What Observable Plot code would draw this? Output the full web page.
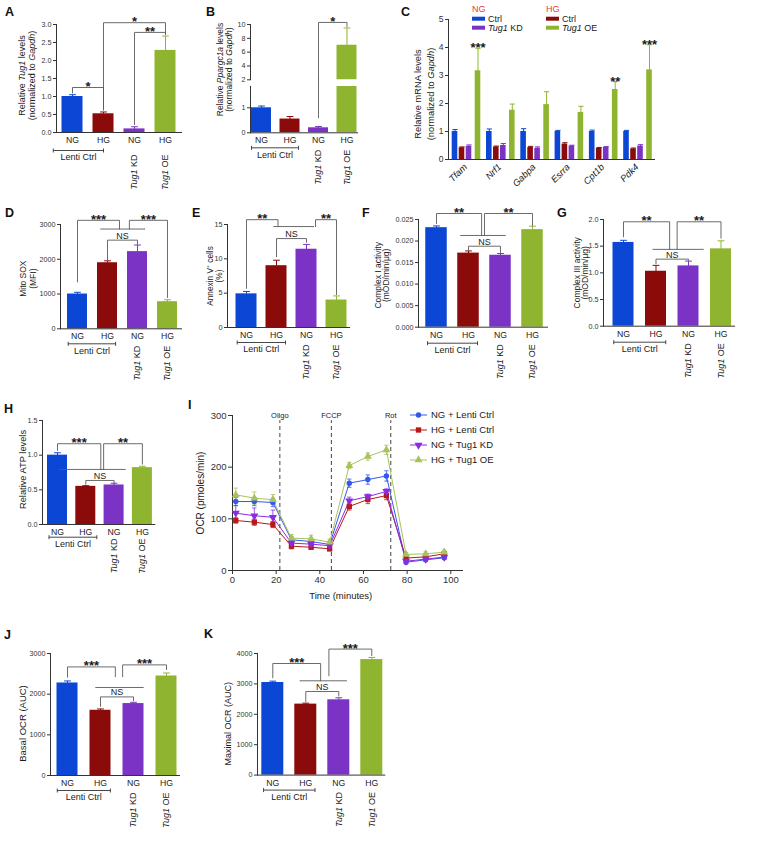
<!DOCTYPE html>
<html><head><meta charset="utf-8">
<script src="https://cdn.jsdelivr.net/npm/d3@7"></script>
<script src="https://cdn.jsdelivr.net/npm/@observablehq/plot@0.6"></script>
<style>
body{margin:0;background:#fff;}
#fig{position:relative;width:764px;height:858px;overflow:hidden;background:#fff;font-family:"Liberation Sans",Arial,sans-serif;}
#fig svg{overflow:visible;}
</style></head><body><div id="fig"></div>
<script>
// ================= DATA =================
const xGroups = ["NG", "HG", "NG", "HG"];
const treatLabels = ["", "", "Tug1 KD", "Tug1 OE"];
const lentiLabel = "Lenti Ctrl";
const barColors = ["#0b47d4", "#8b0a0a", "#7a33c4", "#8fb530"];

// A: Tug1 levels
const aVals = [1.0, 0.52, 0.1, 2.28];
const aErr = [0.05, 0.05, 0.06, 0.4];
const aBrackets = [[0, 1, 1.25, 1.1, 0.62, "*"], [1, 3, 3.05, 0.65, 2.72, "*"], [2, 3, 2.78, 0.22, 2.72, "**"]];
// B: Ppargc1a levels (broken axis)
const bVals = [1.0, 0.55, 0.2, 7.0];
const bErr = [0.07, 0.1, 0.05, 2.5];
const bBracketsUpper = [[2, 3, 10.3, 2, 9.7, "*"]];
const bBracketsLower = [[2, 2, 2.13, 0.6, 2.13, ""]];
// C: mRNA levels
const genes = ["Tfam", "Nrf1", "Gabpa", "Esrra", "Cpt1b", "Pdk4"];
const cNGctrl = [1.0, 1.0, 1.0, 1.0, 1.0, 1.0];
const cNGctrlErr = [0.07, 0.09, 0.1, 0.04, 0.05, 0.04];
const cHGctrl = [0.42, 0.45, 0.43, 0.55, 0.4, 0.38];
const cHGctrlErr = [0.03, 0.03, 0.04, 0.05, 0.03, 0.03];
const cNGkd = [0.47, 0.5, 0.4, 0.48, 0.43, 0.48];
const cNGkdErr = [0.05, 0.07, 0.05, 0.03, 0.03, 0.05];
const cHGoe = [3.17, 1.76, 1.96, 1.68, 2.5, 3.2];
const cHGoeErr = [0.8, 0.22, 0.46, 0.22, 0.28, 0.9];
const cStars = ["***", "", "", "", "**", "***"];
// D: Mito SOX
const dVals = [1000, 1900, 2220, 780];
const dErr = [50, 55, 190, 55];
const dBrackets = [[0, 1.4, 3120, 1350, 2870, "***"], [1.73, 3, 3120, 2870, 900, "***"], [0.77, 2.25, 2870, 2870, 2870, ""], [1, 2, 2550, 1990, 2430, "NS"]];
// E: Annexin V+
const eVals = [4.9, 9.0, 11.4, 4.0];
const eErr = [0.35, 0.8, 0.7, 0.6];
const eBrackets = [[0, 1.05, 15.7, 5.7, 14.7, "**"], [2.3, 3, 15.7, 14.7, 4.8, "**"], [0.9, 2.25, 14.7, 14.7, 14.7, ""], [1, 2, 12.95, 10.3, 12.4, "NS"]];
// F: Complex I
const fVals = [0.0231, 0.0172, 0.0167, 0.02265];
const fErr = [0.0004, 0.0005, 0.0004, 0.0008];
const fBrackets = [[0, 1.41, 0.02639, 0.02407, 0.02129, "**"], [1.5, 3, 0.02639, 0.02129, 0.02361, "**"], [0.75, 2.16, 0.02129, 0.02129, 0.02129, ""], [1, 2, 0.0188, 0.0178, 0.01734, "NS"]];
// G: Complex III
const gVals = [1.57, 1.03, 1.13, 1.45];
const gErr = [0.04, 0.11, 0.09, 0.15];
const gBrackets = [[0, 1.42, 1.957, 1.675, 1.44, "**"], [1.65, 3, 1.957, 1.44, 1.65, "**"], [0.9, 2.46, 1.44, 1.44, 1.44, ""], [1, 2, 1.257, 1.17, 1.235, "NS"]];
// H: ATP
const hVals = [1.0, 0.55, 0.57, 0.82];
const hErr = [0.035, 0.01, 0.025, 0.02];
const hBrackets = [[0, 1.53, 1.165, 1.068, 0.794, "***"], [1.63, 3, 1.165, 0.794, 0.87, "**"], [0.05, 2.4, 0.794, 0.794, 0.794, ""], [1, 2, 0.635, 0.58, 0.6, "NS"]];
// I: OCR time course
const iTimes = [1.5, 10, 18.5, 27, 36, 44.5, 53.5, 62, 70.5, 79.5, 88.5, 97];
const iSeries = ["NG + Lenti Ctrl", "HG + Lenti Ctrl", "NG + Tug1 KD", "HG + Tug1 OE"];
const iNGctrl = [133.5, 133.5, 131.6, 59.4, 56.1, 50.3, 169, 176, 183, 16, 20.7, 24.6];
const iNGctrlErr = [8, 8, 8, 6, 6, 5, 8, 9, 10, 3, 3, 3];
const iHGctrl = [96.8, 93.5, 89, 47, 45, 42, 124, 137.4, 145, 24, 26.5, 32.3];
const iHGctrlErr = [5, 6, 6, 5, 4, 4, 7, 8, 8, 3, 3, 3];
const iNGkd = [111, 106, 103, 53, 51, 48, 135, 143, 153, 18, 22, 26];
const iNGkdErr = [15, 15, 14, 6, 5, 5, 7, 5, 5, 3, 3, 3];
const iHGoe = [146.5, 140, 137, 62.6, 61.3, 54.8, 203, 220.6, 233.6, 31, 32.3, 35.5];
const iHGoeErr = [13, 12, 10, 7, 7, 6, 6, 7, 9, 4, 4, 4];
const injNames = ["Oligo", "FCCP", "Rot"];
const injTimes = [21.7, 45.3, 72.5];
// J: Basal OCR
const jVals = [2275, 1604, 1769, 2447];
const jErr = [50, 33, 31, 73];
const jBrackets = [[0, 1.45, 2670, 2417, 2430, "***"], [1.67, 3, 2720, 2430, 2606, "***"], [0.85, 2.3, 2164, 2164, 2164, ""], [1, 2, 1933, 1700, 1840, "NS"]];
// K: Maximal OCR
const kVals = [3046, 2335, 2477, 3800];
const kErr = [45, 33, 66, 70];
const kBrackets = [[0, 1.45, 3671, 3200, 3102, "***"], [1.7, 3, 4145, 3266, 3930, "***"], [0.82, 2.24, 3102, 3102, 3102, ""], [1, 2, 2750, 2420, 2600, "NS"]];

// ================= HELPERS =================
const svgNS = "http://www.w3.org/2000/svg";
const FONT = "'Liberation Sans', Arial, Helvetica, sans-serif";
const AX = "#333333";
const TXT = "#1a1a1a";
const BR = "#5a5a5a";
const fig = document.getElementById("fig");
const italicWords = ["Tug1", "Gapdh", "Ppargc1a"];

function italicize(root) {
  const re = new RegExp("(" + italicWords.join("|") + ")");
  root.querySelectorAll("text, tspan").forEach(node => {
    if (node.children.length) return;
    const t = node.textContent;
    if (!re.test(t)) return;
    const parts = t.split(re);
    node.textContent = "";
    parts.forEach(p => {
      if (!p) return;
      const ts = document.createElementNS(svgNS, "tspan");
      ts.textContent = p;
      if (italicWords.includes(p)) ts.setAttribute("font-style", "italic");
      node.appendChild(ts);
    });
  });
}

function place(svg, left, top) {
  svg.style.position = "absolute";
  svg.style.left = left + "px";
  svg.style.top = top + "px";
  svg.style.maxWidth = "none";
  italicize(svg);
  fig.appendChild(svg);
}

function barPanel(p) {
  const [lo, hi] = p.yDomain;
  const frameH = p.y0 - p.yTop;
  const upp = (hi - lo) / frameH;
  const mL = 50, mR = 8, mT = 20, mB = 72;
  const frameW = p.axisEnd - p.axisX;
  const xmin = (p.axisX - p.c0) / p.step;
  const xmax = (p.axisEnd - p.c0) / p.step;
  const hw = p.bw / p.step / 2;
  const cw = 3.4 / p.step;
  const idx = p.vals.map((_, i) => i);
  const top = i => p.vals[i] + p.errs[i];
  const clip = !!p.clip;
  const marks = [
    Plot.rect(idx, {x1: i => i - hw, x2: i => i + hw, y1: 0, y2: i => p.vals[i], fill: i => barColors[i], clip}),
    Plot.link(idx, {x1: i => i, x2: i => i, y1: i => p.vals[i], y2: top, stroke: i => barColors[i], strokeWidth: 1, clip}),
    Plot.link(idx, {x1: i => i - cw, x2: i => i + cw, y1: top, y2: top, stroke: i => barColors[i], strokeWidth: 1, clip})
  ];
  const segs = [];
  (p.brackets || []).forEach((b, k) => {
    const [x1, x2, lev, l1, l2] = b;
    segs.push({k, x: x1, y: l1}, {k, x: x1, y: lev}, {k, x: x2, y: lev}, {k, x: x2, y: l2});
  });
  if (segs.length) marks.push(Plot.line(segs, {x: "x", y: "y", z: "k", stroke: BR, strokeWidth: 0.9}));
  const stars = (p.brackets || []).filter(b => b[5] && b[5] !== "NS");
  const ns = (p.brackets || []).filter(b => b[5] === "NS");
  marks.push(Plot.text(stars, {x: b => (b[0] + b[1]) / 2, y: b => b[2], text: b => b[5], fontSize: 13, fontWeight: "bold", lineAnchor: "bottom", dy: 3.5, fill: TXT}));
  marks.push(Plot.text(ns, {x: b => (b[0] + b[1]) / 2, y: b => b[2], text: b => b[5], fontSize: 9, lineAnchor: "bottom", dy: -1.5, fill: TXT}));
  if (p.xaxis !== false) marks.push(Plot.ruleY([lo], {stroke: AX, strokeWidth: 1}));
  if (p.xlabels !== false) {
    marks.push(Plot.text(idx, {x: i => i, y: lo, text: i => xGroups[i], lineAnchor: "top", dy: 4.5, fontSize: 8.7, fill: TXT}));
    const ly = lo - p.lentiDy * upp;
    marks.push(Plot.link([p.lenti], {x1: d => d[0], x2: d => d[1], y1: ly, y2: ly, stroke: AX, strokeWidth: 0.9}));
    marks.push(Plot.link(p.lenti, {x1: d => d, x2: d => d, y1: lo - (p.lentiDy - 2) * upp, y2: lo - (p.lentiDy + 2) * upp, stroke: AX, strokeWidth: 0.9}));
    marks.push(Plot.text([p.lenti], {x: d => (d[0] + d[1]) / 2, y: lo, text: () => lentiLabel, lineAnchor: "top", dy: p.lentiDy + 3.5, fontSize: 9, fill: TXT}));
    marks.push(Plot.text([2, 3], {x: i => i, y: lo, text: i => treatLabels[i], rotate: -90, textAnchor: "end", lineAnchor: "middle", dy: p.rotDy, fontSize: 9, fill: TXT}));
  }
  if (p.ylabel) marks.push(Plot.text([p.ylabel], {frameAnchor: "left", text: d => d, rotate: -90, textAnchor: "middle", lineAnchor: "middle", dx: p.ylDx, dy: p.ylDy || 0, fontSize: p.ylFont, lineHeight: p.ylLh || 1.1, fill: TXT}));
  const svg = Plot.plot({
    width: mL + frameW + mR, height: mT + frameH + mB,
    marginLeft: mL, marginRight: mR, marginTop: mT, marginBottom: mB,
    x: {domain: [xmin, xmax], axis: null},
    y: {domain: [lo, hi], ticks: p.ticks, tickFormat: p.fmt, tickSize: 3, tickPadding: 2, line: true, label: null},
    color: {type: "identity"},
    style: {background: "transparent", fontFamily: FONT, fontSize: "7.2px", color: AX, overflow: "visible"},
    marks
  });
  place(svg, p.axisX - mL, p.yTop - mT);
}

const f1 = d3.format(".1f"), fd = d3.format("d"), f3 = d3.format(".3f");

// A
barPanel({axisX: 56, y0: 132, yTop: 24, yDomain: [0, 3], ticks: [0, 0.5, 1, 1.5, 2, 2.5, 3], fmt: f1, c0: 72, step: 31, axisEnd: 182, bw: 21,
  vals: aVals, errs: aErr, brackets: aBrackets, lenti: [-0.62, 1.0], lentiDy: 18, rotDy: 22,
  ylabel: "Relative Tug1 levels\n(normalized to Gapdh)", ylFont: 9, ylDx: -29.7, ylDy: -3, ylLh: 1.05});
// B upper & lower
barPanel({axisX: 250, y0: 79.3, yTop: 24, yDomain: [2, 10], ticks: [2, 4, 6, 8, 10], fmt: fd, c0: 261, step: 28.5, axisEnd: 358, bw: 20,
  vals: bVals, errs: bErr, brackets: bBracketsUpper, clip: true, xaxis: false, xlabels: false,
  ylabel: "Relative Ppargc1a levels\n(normalized to Gapdh)", ylFont: 8.5, ylDx: -26, ylDy: 17.4, ylLh: 1.1});
barPanel({axisX: 250, y0: 132.3, yTop: 86, yDomain: [0, 1.85], ticks: [0, 1], fmt: fd, c0: 261, step: 28.5, axisEnd: 358, bw: 20,
  vals: bVals, errs: bErr, brackets: bBracketsLower, clip: true, lenti: [-0.35, 1.3], lentiDy: 15, rotDy: 17});
// D
barPanel({axisX: 60, y0: 328.3, yTop: 224, yDomain: [0, 3000], ticks: [0, 1000, 2000, 3000], fmt: fd, c0: 77, step: 30, axisEnd: 182, bw: 20,
  vals: dVals, errs: dErr, brackets: dBrackets, lenti: [-0.31, 1.27], lentiDy: 15, rotDy: 17,
  ylabel: "Mito SOX\n(MFI)", ylFont: 8.5, ylDx: -32.5, ylDy: 2, ylLh: 1.2});
// E
barPanel({axisX: 227, y0: 327, yTop: 224, yDomain: [0, 15], ticks: [0, 5, 10, 15], fmt: fd, c0: 246, step: 30, axisEnd: 350, bw: 21,
  vals: eVals, errs: eErr, brackets: eBrackets, lenti: [-0.31, 1.3], lentiDy: 15, rotDy: 17,
  ylabel: "Annexin V\u207A cells\n(%)", ylFont: 8.3, ylDx: -13, ylDy: 0, ylLh: 1.1});
// F
barPanel({axisX: 418, y0: 326.7, yTop: 219, yDomain: [0, 0.025], ticks: [0, 0.005, 0.01, 0.015, 0.02, 0.025], fmt: f3, c0: 436, step: 32, axisEnd: 548, bw: 21.5,
  vals: fVals, errs: fErr, brackets: fBrackets, lenti: [-0.28, 1.28], lentiDy: 16, rotDy: 17,
  ylabel: "Complex I activity\n(mOD/min/\u03BCg)", ylFont: 8.5, ylDx: -36.2, ylDy: 2, ylLh: 0.98});
// G
barPanel({axisX: 603, y0: 326, yTop: 219.3, yDomain: [0, 2], ticks: [0, 0.5, 1, 1.5, 2], fmt: f1, c0: 623, step: 32.5, axisEnd: 735, bw: 21,
  vals: gVals, errs: gErr, brackets: gBrackets, lenti: [-0.3, 1.3], lentiDy: 16, rotDy: 17,
  ylabel: "Complex III activity\n(mOD/min/\u03BCg)", ylFont: 8.5, ylDx: -22.2, ylDy: 0, ylLh: 0.98});
// H
barPanel({axisX: 41.7, y0: 524, yTop: 420, yDomain: [0, 1.5], ticks: [0, 0.5, 1, 1.5], fmt: f1, c0: 56.7, step: 28.3, axisEnd: 155, bw: 20,
  vals: hVals, errs: hErr, brackets: hBrackets, lenti: [-0.3, 1.39], lentiDy: 12.7, rotDy: 14,
  ylabel: "Relative ATP levels", ylFont: 9.3, ylDx: -20, ylDy: -3});
// J
barPanel({axisX: 50, y0: 775.3, yTop: 653.3, yDomain: [0, 3000], ticks: [0, 1000, 2000, 3000], fmt: fd, c0: 67, step: 33, axisEnd: 180, bw: 21,
  vals: jVals, errs: jErr, brackets: jBrackets, lenti: [-0.31, 1.3], lentiDy: 15, rotDy: 17,
  ylabel: "Basal OCR (AUC)", ylFont: 9.5, ylDx: -28.3, ylDy: 9});
// K
barPanel({axisX: 256.7, y0: 774.3, yTop: 652.7, yDomain: [0, 4000], ticks: [0, 1000, 2000, 3000, 4000], fmt: fd, c0: 272, step: 33, axisEnd: 385, bw: 22,
  vals: kVals, errs: kErr, brackets: kBrackets, lenti: [-0.28, 1.28], lentiDy: 15, rotDy: 17,
  ylabel: "Maximal OCR (AUC)", ylFont: 9, ylDx: -29.7, ylDy: 9.5});

// C
(function () {
  const axisX = 448, y0 = 159, yTop = 19, g0 = 466, step = 34.3, axisEnd = 655;
  const mL = 50, mR = 8, mT = 15, mB = 40;
  const frameW = axisEnd - axisX, frameH = y0 - yTop;
  const offs = [-11.5 / step, -4.5 / step, 2.5 / step, 11.5 / step];
  const hw = 2.8 / step, cw = 2.6 / step;
  const series = [cNGctrl, cHGctrl, cNGkd, cHGoe];
  const errs = [cNGctrlErr, cHGctrlErr, cNGkdErr, cHGoeErr];
  const rows = [];
  series.forEach((vals, s) => vals.forEach((v, g) => rows.push({g, s, x: g + offs[s], v, e: errs[s][g]})));
  const gi = genes.map((_, i) => i);
  const svg = Plot.plot({
    width: mL + frameW + mR, height: mT + frameH + mB,
    marginLeft: mL, marginRight: mR, marginTop: mT, marginBottom: mB,
    x: {domain: [(axisX - g0) / step, (axisEnd - g0) / step], axis: null},
    y: {domain: [0, 5], ticks: [0, 1, 2, 3, 4, 5], tickFormat: fd, tickSize: 3, tickPadding: 2, line: true, label: null},
    color: {type: "identity"},
    style: {background: "transparent", fontFamily: FONT, fontSize: "8.5px", color: AX, overflow: "visible"},
    marks: [
      Plot.rect(rows, {x1: r => r.x - hw, x2: r => r.x + hw, y1: 0, y2: "v", fill: r => barColors[r.s]}),
      Plot.link(rows, {x1: "x", x2: "x", y1: "v", y2: r => r.v + r.e, stroke: r => barColors[r.s], strokeWidth: 1}),
      Plot.link(rows, {x1: r => r.x - cw, x2: r => r.x + cw, y1: r => r.v + r.e, y2: r => r.v + r.e, stroke: r => barColors[r.s], strokeWidth: 1}),
      Plot.text(rows.filter(r => r.s === 3 && cStars[r.g]), {x: "x", y: r => r.v + r.e, text: r => cStars[r.g], fontSize: 13, fontWeight: "bold", lineAnchor: "bottom", dy: 4, fill: TXT}),
      Plot.ruleY([0], {stroke: AX, strokeWidth: 1}),
      Plot.text(gi, {x: i => i, y: 0, text: i => genes[i], rotate: -45, textAnchor: "end", lineAnchor: "middle", dx: -1, dy: 6, fontSize: 9.3, fontStyle: "italic", fill: TXT}),
      Plot.text(["Relative mRNA levels\n(normalized to Gapdh)"], {frameAnchor: "left", text: d => d, rotate: -90, textAnchor: "middle", lineAnchor: "middle", dx: -25, dy: 4.5, fontSize: 9.3, lineHeight: 1.4, fill: TXT})
    ]
  });
  place(svg, axisX - mL, yTop - mT);
})();

// I
const iSeriesVals = [iNGctrl, iHGctrl, iNGkd, iHGoe];
const iSeriesErr = [iNGctrlErr, iHGctrlErr, iNGkdErr, iHGoeErr];
const iColors = ["#3358ee", "#b81818", "#8a2be2", "#a9c35c"];
const triDown = {draw(ctx, size) { const y = -Math.sqrt(size / (Math.sqrt(3) * 3)); ctx.moveTo(0, -2 * y); ctx.lineTo(-Math.sqrt(3) * y, y); ctx.lineTo(Math.sqrt(3) * y, y); ctx.closePath(); }};
const iSymbols = ["circle", "square", triDown, "triangle"];
(function () {
  const axisX = 231.7, y0 = 570, yTop = 415, axisEnd = 461.7, x100 = 450;
  const mL = 45, mR = 8, mT = 15, mB = 35;
  const frameW = axisEnd - axisX, frameH = y0 - yTop;
  const xmax = 100 * frameW / (x100 - axisX);
  const rows = [];
  iSeriesVals.forEach((vals, s) => vals.forEach((v, k) => rows.push({s, t: iTimes[k], v, e: iSeriesErr[s][k]})));
  const cap = 1.0;
  const marks = [
    Plot.ruleX(injTimes, {x: d => d, y1: 0, y2: 290, stroke: "#444", strokeDasharray: "4,3", strokeWidth: 1}),
    Plot.text(injTimes, {x: d => d, y: 300, text: (d, i) => injNames[i], fontSize: 7.5, lineAnchor: "middle", fill: TXT})
  ];
  iSeriesVals.forEach((_, s) => {
    const r = rows.filter(d => d.s === s);
    marks.push(Plot.line(r, {x: "t", y: "v", stroke: iColors[s], strokeWidth: 1}));
    marks.push(Plot.link(r, {x1: "t", x2: "t", y1: d => d.v - d.e, y2: d => d.v + d.e, stroke: iColors[s], strokeWidth: 0.8}));
    marks.push(Plot.link(r, {x1: d => d.t - cap, x2: d => d.t + cap, y1: d => d.v + d.e, y2: d => d.v + d.e, stroke: iColors[s], strokeWidth: 0.8}));
    marks.push(Plot.link(r, {x1: d => d.t - cap, x2: d => d.t + cap, y1: d => d.v - d.e, y2: d => d.v - d.e, stroke: iColors[s], strokeWidth: 0.8}));
  });
  iSeriesVals.forEach((_, s) => {
    marks.push(Plot.dot(rows.filter(d => d.s === s), {x: "t", y: "v", fill: iColors[s], stroke: "none", r: s === 0 ? 2.7 : 3, symbol: iSymbols[s]}));
  });
  marks.push(Plot.text(["OCR (pmoles/min)"], {frameAnchor: "left", text: d => d, rotate: -90, textAnchor: "middle", lineAnchor: "middle", dx: -31.7, fontSize: 10, fill: TXT}));
  marks.push(Plot.text(["Time (minutes)"], {frameAnchor: "bottom", text: d => d, lineAnchor: "middle", dx: -6.7, dy: 25, fontSize: 9.5, fill: TXT}));
  const svg = Plot.plot({
    width: mL + frameW + mR, height: mT + frameH + mB,
    marginLeft: mL, marginRight: mR, marginTop: mT, marginBottom: mB,
    x: {domain: [0, xmax], ticks: [0, 20, 40, 60, 80, 100], tickFormat: fd, tickSize: 4, tickPadding: 2, line: true, label: null},
    y: {domain: [0, 300], ticks: [0, 100, 200, 300], tickFormat: fd, tickSize: 4, tickPadding: 2, line: true, label: null},
    style: {background: "transparent", fontFamily: FONT, fontSize: "9.5px", color: AX, overflow: "visible"},
    marks
  });
  place(svg, axisX - mL, yTop - mT);
})();

// ================= OVERLAY: panel letters & legends =================
const panelLetters = ["A", "B", "C", "D", "E", "F", "G", "H", "I", "J", "K"];
const letterPos = [[5, 16], [206, 16], [401, 16], [5, 217], [192, 217], [362, 217], [557, 217], [4, 413], [188, 409], [4, 639], [204, 638]];
const ov = document.createElementNS(svgNS, "svg");
ov.setAttribute("width", 764); ov.setAttribute("height", 858);
ov.style.position = "absolute"; ov.style.left = "0px"; ov.style.top = "0px";
ov.style.fontFamily = FONT;
function addText(x, y, parts, attrs) {
  const t = document.createElementNS(svgNS, "text");
  t.setAttribute("x", x); t.setAttribute("y", y);
  for (const k in attrs) t.setAttribute(k, attrs[k]);
  (Array.isArray(parts) ? parts : [[parts, false]]).forEach(([s, it]) => {
    const ts = document.createElementNS(svgNS, "tspan");
    ts.textContent = s;
    if (it) ts.setAttribute("font-style", "italic");
    t.appendChild(ts);
  });
  ov.appendChild(t);
  return t;
}
function addEl(tag, attrs) {
  const e = document.createElementNS(svgNS, tag);
  for (const k in attrs) e.setAttribute(k, attrs[k]);
  ov.appendChild(e);
  return e;
}
panelLetters.forEach((L, i) => addText(letterPos[i][0], letterPos[i][1], L, {"font-size": 12.5, "font-weight": "bold", fill: "#111"}));

// C legend
const cLegendHeads = ["NG", "HG"];
const cLegendItems = [[["Ctrl", false]], [["Tug1", true], [" KD", false]], [["Ctrl", false]], [["Tug1", true], [" OE", false]]];
const cLegendColors = [barColors[0], barColors[2], barColors[1], barColors[3]];
[472, 546].forEach((x, c) => {
  addText(x, 11.7, cLegendHeads[c], {"font-size": 9, fill: "#e8383d"});
  [0, 1].forEach(r => {
    const k = c * 2 + r;
    const cy = 18.7 + r * 9;
    addEl("rect", {x: x, y: cy - 2, width: 13, height: 4, fill: cLegendColors[k]});
    addText(x + 16, cy + 3, cLegendItems[k], {"font-size": 9, fill: TXT});
  });
});

// I legend
iSeries.forEach((name, s) => {
  const cy = 415 + s * 15;
  addEl("line", {x1: 410, x2: 427, y1: cy, y2: cy, stroke: iColors[s], "stroke-width": 1});
  const sym = s === 0 ? d3.symbol(d3.symbolCircle, 2.7 * 2.7 * Math.PI) : s === 1 ? d3.symbol(d3.symbolSquare, 9 * Math.PI) : s === 2 ? d3.symbol(triDown, 9 * Math.PI) : d3.symbol(d3.symbolTriangle, 9 * Math.PI);
  addEl("path", {d: sym(), transform: `translate(418.5,${cy})`, fill: iColors[s]});
  addText(431, cy + 3.3, name, {"font-size": 9.5, fill: TXT});
});
fig.appendChild(ov);
</script></body></html>
